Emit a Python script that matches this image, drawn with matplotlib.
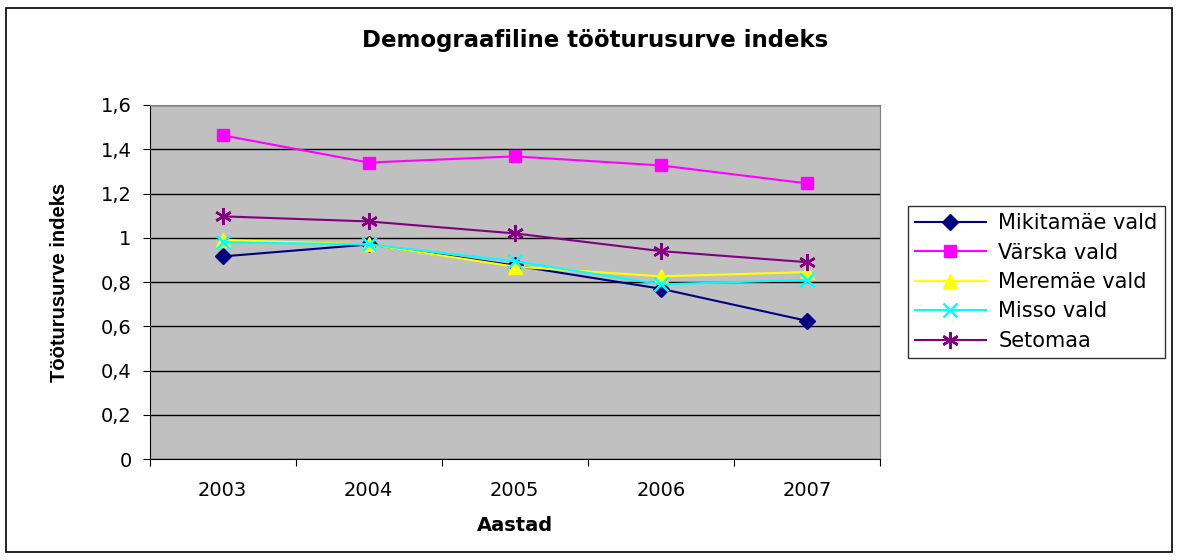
import matplotlib.pyplot as plt
import numpy as np
from matplotlib.patches import Rectangle

plt.rcParams['font.family'] = ['DejaVu Sans']

years = ['2003', '2004', '2005', '2006', '2007']
mikitamae = [0.916, 0.97, 0.875, 0.77, 0.625]
varska = [1.463, 1.34, 1.368, 1.327, 1.246]
meremae = [0.99, 0.97, 0.87, 0.826, 0.845]
misso = [0.98, 0.97, 0.894, 0.79, 0.81]
setomaa = [1.097, 1.074, 1.02, 0.94, 0.89]

series = [
    ('Mikitamäe vald', mikitamae, '#000080', 'D', 8),
    ('Värska vald', varska, '#FF00FF', 's', 9),
    ('Meremäe vald', meremae, '#FFFF00', '^', 10),
    ('Misso vald', misso, '#00FFFF', 'x', 10),
    ('Setomaa', setomaa, '#800080', (6, 2, 0), 12),
]

y_ticks = np.arange(0, 1.61, 0.2)
y_labels = ['0', '0,2', '0,4', '0,6', '0,8', '1', '1,2', '1,4', '1,6']

fig = plt.figure(figsize=(11.78, 5.60), dpi=100)
fig.patches.append(Rectangle((0.005, 0.014), 0.99, 0.972, transform=fig.transFigure,
                             fill=False, edgecolor='black', linewidth=1.2))
ax = fig.add_axes([0.127, 0.18, 0.62, 0.6325])
ax.set_facecolor('#C0C0C0')

x = np.arange(len(years))
for name, vals, col, mk, ms in series:
    ax.plot(x, vals, color=col, marker=mk, markersize=ms, linewidth=1.5,
            markeredgewidth=1.8 if mk in ('x', (6, 2, 0)) else 1,
            markeredgecolor=col, label=name)

ax.set_xlim(-0.5, 4.5)
ax.set_ylim(0, 1.6)
ax.set_yticks(y_ticks)
ax.set_yticklabels(y_labels, fontsize=14)
ax.yaxis.grid(True, color='black', linewidth=1)
ax.set_axisbelow(True)

ax.set_xticks(np.arange(-0.5, 4.6, 1))
ax.set_xticklabels([])
ax.set_xticks(x, minor=True)
ax.set_xticklabels(years, minor=True, fontsize=14)
ax.tick_params(axis='x', which='minor', length=0, pad=16)
ax.tick_params(axis='both', which='major', length=5, color='black', direction='out')
ax.tick_params(axis='y', pad=8)

for s in ['top', 'right']:
    ax.spines[s].set_color('#808080')
ax.spines['left'].set_color('black')
ax.spines['bottom'].set_color('black')

ax.set_xlabel('Aastad', fontsize=14, fontweight='bold', labelpad=11)
ax.set_ylabel('Tööturusurve indeks', fontsize=14.5, fontweight='bold',
              family=['Liberation Sans Narrow', 'Liberation Sans'], labelpad=23)
fig.text(0.505, 0.927, 'Demograafiline tööturusurve indeks', ha='center', va='center',
         fontsize=16.5, fontweight='bold')

leg = ax.legend(loc='center left', bbox_to_anchor=(1.038, 0.5), fontsize=15,
                frameon=True, fancybox=False, edgecolor='black', borderpad=0.35,
                handlelength=3.4, handletextpad=0.6, labelspacing=0.45,
                borderaxespad=0)
leg.get_frame().set_linewidth(1.0)

fig.savefig('out.png', dpi=100)
